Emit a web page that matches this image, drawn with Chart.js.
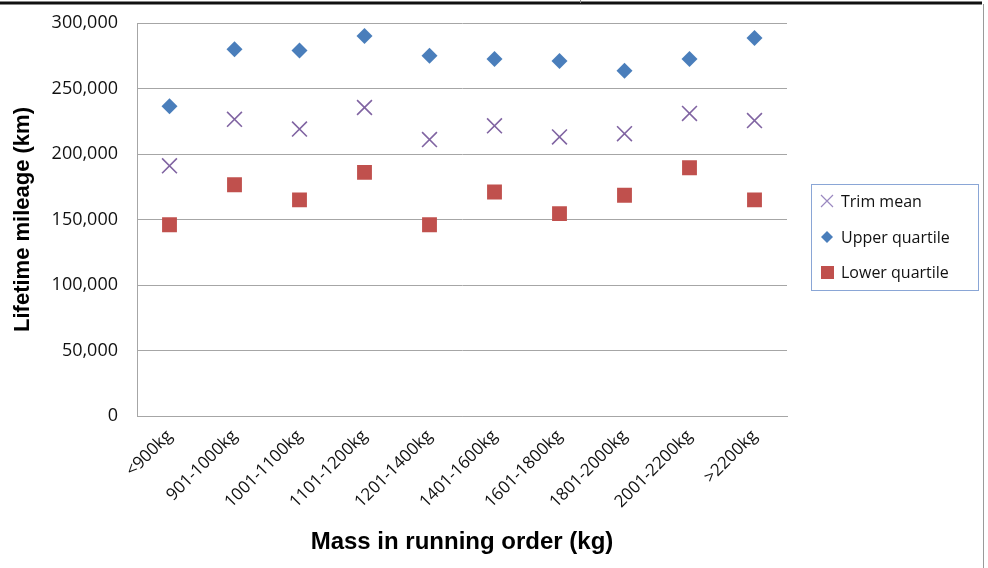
<!DOCTYPE html>
<html>
<head>
<meta charset="utf-8">
<script src="https://cdn.jsdelivr.net/npm/chart.js@4/dist/chart.umd.min.js"></script>
<style>
html,body{margin:0;padding:0;background:#fff;}
#wrap{width:988px;height:568px;position:relative;}
</style>
</head>
<body>
<div id="wrap"><canvas id="c" width="988" height="568"></canvas></div>
<script>
const categories = ['<900kg','901-1000kg','1001-1100kg','1101-1200kg','1201-1400kg','1401-1600kg','1601-1800kg','1801-2000kg','2001-2200kg','>2200kg'];
const trimMean = [191000, 226500, 219000, 235500, 211000, 221500, 213000, 215500, 231000, 225500];
const upperQuartile = [236500, 280000, 279000, 290000, 275000, 272500, 271000, 263500, 272500, 288500];
const lowerQuartile = [146000, 176500, 165000, 186000, 146000, 171000, 154500, 168500, 189500, 165000];
const yTicks = [0, 50000, 100000, 150000, 200000, 250000, 300000];

const COL_X = '#8064a2', COL_D = '#4a7ebb', COL_S = '#c0504d';

const framePlugin = {
  id: 'frame',
  beforeDraw(chart) {
    const ctx = chart.ctx;
    ctx.save();
    ctx.fillStyle = '#fff';
    ctx.fillRect(0, 0, chart.width, chart.height);
    ctx.strokeStyle = '#111';
    ctx.lineWidth = 3;
    ctx.beginPath(); ctx.moveTo(0, 3); ctx.lineTo(982, 3); ctx.stroke();
    ctx.strokeStyle = '#888'; ctx.lineWidth = 1;
    ctx.beginPath(); ctx.moveTo(580.5, 0); ctx.lineTo(580.5, 3); ctx.stroke();
    ctx.strokeStyle = '#9a9a9a';
    ctx.beginPath(); ctx.moveTo(983.5, 4); ctx.lineTo(983.5, 568); ctx.stroke();
    ctx.restore();
  }
};

const legendPlugin = {
  id: 'boxLegend',
  afterDraw(chart) {
    const ctx = chart.ctx;
    ctx.save();
    ctx.strokeStyle = '#8aa6d6';
    ctx.lineWidth = 1;
    ctx.strokeRect(811.5, 184.5, 167, 106);
    ctx.font = '16px "Open Sans"';
    ctx.textBaseline = 'middle';
    ctx.fillStyle = '#111';
    const items = chart.data.datasets;
    const ys = [201, 237, 272];
    items.forEach((ds, i) => {
      const y = ys[i];
      const x = 827;
      ctx.save();
      ctx.fillStyle = ds.backgroundColor;
      ctx.strokeStyle = ds.borderColor;
      ctx.lineWidth = 1.2;
      if (ds.pointStyle === 'crossRot') {
        ctx.strokeStyle = '#9a88c0';
        ctx.beginPath();
        ctx.moveTo(x - 6, y - 6); ctx.lineTo(x + 6, y + 6);
        ctx.moveTo(x + 6, y - 6); ctx.lineTo(x - 6, y + 6);
        ctx.stroke();
      } else if (ds.pointStyle === 'rectRot') {
        ctx.beginPath();
        ctx.moveTo(x, y - 6); ctx.lineTo(x + 6, y); ctx.lineTo(x, y + 6); ctx.lineTo(x - 6, y);
        ctx.closePath(); ctx.fill();
      } else {
        ctx.fillRect(x - 6, y - 6, 13, 13);
      }
      ctx.restore();
      ctx.fillText(ds.label, 841, y + 1);
    });
    ctx.restore();
  }
};

new Chart(document.getElementById('c'), {
  type: 'line',
  data: {
    labels: categories,
    datasets: [
      { label: 'Trim mean', data: trimMean, showLine: false, pointStyle: 'crossRot', pointRadius: 10.5, pointHoverRadius: 10.5, borderColor: COL_X, backgroundColor: COL_X, pointBorderWidth: 1.6 },
      { label: 'Upper quartile', data: upperQuartile, showLine: false, pointStyle: 'rectRot', pointRadius: 8, pointHoverRadius: 8, borderColor: COL_D, backgroundColor: COL_D, pointBorderWidth: 0 },
      { label: 'Lower quartile', data: lowerQuartile, showLine: false, pointStyle: 'rect', pointRadius: 10.5, pointHoverRadius: 10.5, borderColor: COL_S, backgroundColor: COL_S, pointBorderWidth: 0 }
    ]
  },
  options: {
    responsive: false,
    animation: false,
    events: [],
    layout: { padding: { left: 6, top: 23, right: 201, bottom: 7 } },
    plugins: { legend: { display: false }, tooltip: { enabled: false } },
    scales: {
      x: {
        type: 'category',
        offset: true,
        grid: { display: false },
        border: { display: true, color: '#a6a6a6', width: 1 },
        ticks: {
          minRotation: 45, maxRotation: 45, autoSkip: false, padding: 2,
          color: '#111', font: { family: '"Open Sans"', size: 17 }
        },
        title: { display: true, text: 'Mass in running order (kg)', color: '#000', font: { family: '"Liberation Sans"', size: 24, weight: 'bold' }, padding: { top: 4, bottom: 4 } },
        afterFit(scale) { scale.height = 145; scale.paddingLeft = 0; scale.paddingRight = 0; }
      },
      y: {
        min: 0, max: 300000,
        afterBuildTicks(scale) { scale.ticks = yTicks.map(v => ({ value: v })); },
        grid: { color: '#a6a6a6', drawTicks: false, lineWidth: 1 },
        border: { display: true, color: '#a6a6a6', width: 1 },
        ticks: {
          padding: 19, color: '#111', font: { family: '"Open Sans"', size: 18 },
          callback: v => v.toLocaleString('en-US')
        },
        title: { display: true, text: 'Lifetime mileage (km)', color: '#000', font: { family: '"Liberation Sans"', size: 22, weight: 'bold' }, padding: { top: 4, bottom: 4 } },
        afterFit(scale) { scale.width = 131; scale.paddingTop = 0; scale.paddingBottom = 0; }
      }
    }
  },
  plugins: [framePlugin, legendPlugin]
});
</script>
</body>
</html>
